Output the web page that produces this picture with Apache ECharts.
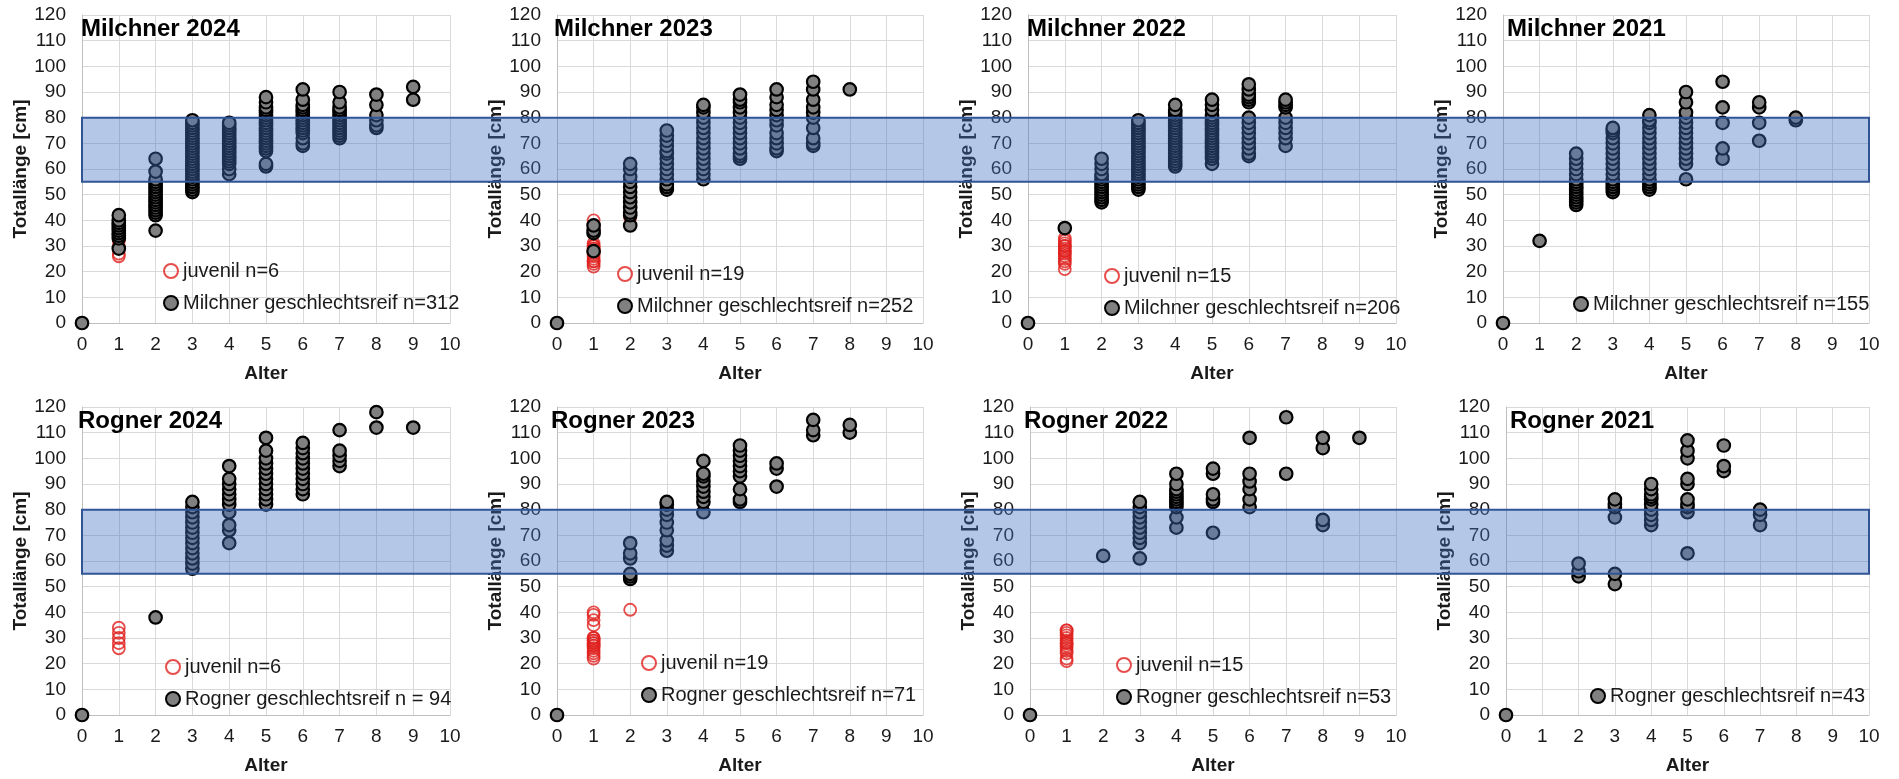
<!DOCTYPE html>
<html><head><meta charset="utf-8">
<script src="https://cdn.jsdelivr.net/npm/echarts@6/dist/echarts.min.js"></script>
<style>html,body{margin:0;padding:0;background:#fff}#c{width:1899px;height:779px}</style>
</head><body><div id="c"></div>
<script>
// ---- Data (index of each inner list = Alter / age) ----
const xTicks = [0,1,2,3,4,5,6,7,8,9,10];
const yTicks = [0,10,20,30,40,50,60,70,80,90,100,110,120];
const bandMin = 55, bandMax = 80;

const titles = ['Milchner 2024','Milchner 2023','Milchner 2022','Milchner 2021','Rogner 2024','Rogner 2023','Rogner 2022','Rogner 2021'];
const juvNames = ['juvenil n=6','juvenil n=19','juvenil n=15',null,'juvenil n=6','juvenil n=19','juvenil n=15',null];
const matNames = ['Milchner geschlechtsreif n=312','Milchner geschlechtsreif n=252','Milchner geschlechtsreif n=206','Milchner geschlechtsreif n=155',
                  'Rogner geschlechtsreif n = 94','Rogner geschlechtsreif n=71','Rogner geschlechtsreif n=53','Rogner geschlechtsreif n=43'];

const m2024Juv = [[0],[26,27,30,32,33]];
const m2024Mat = [[0],[29,33,34,35,36,37,38,39,40,42],[36,42,43,44,45,46,47,48,49,50,51,52,53,54,55,56,59,64],
  [51,52,53,54,55,56,57,58,59,60,61,62,63,64,65,66,67,68,69,70,71,72,73,74,75,76,77,78,79],
  [58,60,62,63,64,65,66,67,68,69,70,71,72,73,74,75,76,77,78],
  [61,62,67,68,69,70,71,72,73,74,75,76,77,78,79,80,81,82,83,84,86,88],
  [69,70,72,74,75,76,77,78,79,80,81,82,83,84,85,87,91],
  [72,73,74,75,76,77,78,79,80,81,82,83,84,86,90],
  [76,77,79,81,85,89],[87,92]];

const m2023Juv = [[0],[22,23,24,24,25,26,27,28,28,29,29,30,30,31,37,38,40],[41]];
const m2023Mat = [[0],[28,35,36,38],[38,42,43,45,47,49,51,53,55,57,60,62],
  [52,53,54,56,58,60,62,64,66,67,69,71,73,75],
  [56,58,60,62,64,66,68,70,72,74,76,78,80,82,84,85],
  [64,65,66,68,70,72,74,76,78,80,82,84,86,87,89],
  [67,68,70,72,74,77,79,81,83,85,88,91],
  [69,70,72,76,80,82,84,87,91,94],[91]];

const m2022Juv = [[0],[21,23,24,25,26,27,28,28,29,30,30,31,32,33]];
const m2022Mat = [[0],[37],[47,48,49,50,51,52,53,54,55,56,57,58,60,62,64],
  [52,53,54,55,56,57,58,59,60,61,62,63,64,65,66,67,68,69,70,71,72,73,74,75,76,77,78,79],
  [61,62,63,64,65,66,67,68,69,70,71,72,73,74,75,76,77,78,79,80,81,82,83,85],
  [62,64,65,66,67,68,69,70,71,72,73,74,75,76,77,78,79,80,81,83,85,87],
  [65,66,68,70,72,74,76,78,80,86,87,88,89,91,93],
  [69,72,74,76,78,80,84,85,86,87]];

const m2021Mat = [[0],[32],[46,47,48,49,50,51,52,53,54,55,56,58,60,62,64,66],
  [51,52,53,54,55,56,58,60,62,64,66,68,70,72,74,75,76],
  [52,53,54,55,56,58,60,62,64,66,68,70,72,74,76,78,79,81],
  [56,62,64,66,68,70,72,74,76,78,80,82,86,90],
  [64,68,78,84,94],[71,78,84,86],[79,80]];

const r2024Juv = [[0],[26,28,30,32,34]];
const r2024Mat = [[0],[],[38],[57,59,61,63,65,67,69,71,73,75,77,79,81,83],
  [67,72,74,79,82,84,86,88,90,92,97],
  [82,84,86,88,90,92,94,96,98,100,103,108],
  [86,88,90,92,94,96,98,100,102,104,106],
  [97,99,101,103,111],[112,118],[112]];

const r2023Juv = [[0],[22,23,24,25,26,27,27,28,28,29,29,30,30,35,37,39,40],[41]];
const r2023Mat = [[0],[],[53,54,55,61,63,67],[64,66,68,72,75,78,80,82,83],
  [79,83,85,87,89,91,93,94,99],[83,84,88,93,95,97,99,101,103,105],
  [89,96,98],[109,111,115],[110,113]];

const r2022Juv = [[0],[21,22,24,25,26,27,28,28,29,30,31,32,33,33]];
const r2022Mat = [[0],[],[62],[61,67,69,71,73,75,77,79,81,83],
  [73,77,81,82,83,84,85,86,87,88,90,94],[71,83,84,86,94,96],
  [81,84,88,91,94,108],[94,116],[74,76,104,108],[108]];

const r2021Mat = [[0],[],[54,56,59],[51,55,77,81,82,84],
  [74,76,78,80,82,84,85,86,88,90],[63,79,81,82,84,90,92,100,103,107],
  [95,97,105],[74,78,80]];

const juvData = [m2024Juv,m2023Juv,m2022Juv,null,r2024Juv,r2023Juv,r2022Juv,null];
const matData = [m2024Mat,m2023Mat,m2022Mat,m2021Mat,r2024Mat,r2023Mat,r2022Mat,r2021Mat];

// ---- Layout ----
const FONT = "'Liberation Sans', Arial, sans-serif";
const layouts = [
  {l:82,  t:15,  w:368, tl:81,   tt:17,  lgl:163,  lgt:261},
  {l:557, t:15,  w:366, tl:554,  tt:17,  lgl:617,  lgt:264},
  {l:1028,t:15,  w:368, tl:1027, tt:17,  lgl:1104, lgt:266},
  {l:1503,t:15,  w:366, tl:1507, tt:17,  lgl:1573, lgt:294},
  {l:82,  t:407, w:368, tl:78,   tt:409, lgl:165,  lgt:657},
  {l:557, t:407, w:366, tl:551,  tt:409, lgl:641,  lgt:653},
  {l:1030,t:407, w:366, tl:1024, tt:409, lgl:1116, lgt:655},
  {l:1506,t:407, w:363, tl:1510, tt:409, lgl:1590, lgt:686}
];

function toPairs(byAge){ const out=[]; byAge.forEach((vals,age)=>vals.forEach(v=>out.push([age,v]))); return out; }

const grids=[], xAxes=[], yAxes=[], series=[], titleArr=[], legends=[];
layouts.forEach((L,i)=>{
  grids.push({left:L.l, top:L.t, width:L.w, height:308, containLabel:false});
  xAxes.push({gridIndex:i, type:'value', min:0, max:10, interval:1,
    name:'Alter', nameLocation:'middle', nameGap:41,
    nameTextStyle:{fontFamily:FONT, fontSize:19, fontWeight:'bold', color:'#1a1a1a'},
    axisLine:{show:true, lineStyle:{color:'#bfbfbf', width:1}}, axisTick:{show:false},
    axisLabel:{fontFamily:FONT, fontSize:19, color:'#1a1a1a', margin:12},
    splitLine:{show:true, lineStyle:{color:'#d9d9d9', width:1}}});
  yAxes.push({gridIndex:i, type:'value', min:0, max:120, interval:10,
    name:'Totallänge [cm]', nameLocation:'middle', nameGap:52, nameRotate:90,
    nameTextStyle:{fontFamily:FONT, fontSize:19, fontWeight:'bold', color:'#1a1a1a'},
    axisLine:{show:true, lineStyle:{color:'#bfbfbf', width:1}}, axisTick:{show:false},
    axisLabel:{fontFamily:FONT, fontSize:19, color:'#1a1a1a', margin:16},
    splitLine:{show:true, lineStyle:{color:'#d9d9d9', width:1}}});
  titleArr.push({text:titles[i], left:L.tl, top:L.tt, padding:0,
    textStyle:{fontFamily:FONT, fontSize:24, fontWeight:'bold', color:'#000'}});
  const lgData=[];
  if (juvData[i]) {
    series.push({type:'scatter', name:juvNames[i], xAxisIndex:i, yAxisIndex:i, clip:false,
      symbol:'circle', symbolSize:12, data:toPairs(juvData[i]),
      itemStyle:{color:'rgba(0,0,0,0)', borderColor:'#e0201e', borderWidth:1.8}, z:2});
    lgData.push(juvNames[i]);
  }
  series.push({type:'scatter', name:matNames[i], xAxisIndex:i, yAxisIndex:i, clip:false,
    symbol:'circle', symbolSize:12.5, data:toPairs(matData[i]),
    itemStyle:{color:'#808080', borderColor:'#000', borderWidth:2.2, opacity:1}, z:3});
  lgData.push(matNames[i]);
  legends.push({data:lgData, orient:'vertical', left:L.lgl, top:L.lgt, padding:0, itemGap:12,
    itemWidth:14, itemHeight:14, icon:'circle', selectedMode:false,
    textStyle:{fontFamily:FONT, fontSize:20, color:'#1a1a1a'}});
});

const chart = echarts.init(document.getElementById('c'));
chart.setOption({animation:false, backgroundColor:'#fff', title:titleArr, grid:grids, xAxis:xAxes, yAxis:yAxes, legend:legends, series:series});

function bandRect(g0, g1){
  const a = chart.convertToPixel({gridIndex:g0}, [0, bandMax]);
  const b = chart.convertToPixel({gridIndex:g1}, [10, bandMin]);
  return {type:'rect', z:50, silent:true,
    shape:{x:a[0], y:a[1], width:b[0]-a[0], height:b[1]-a[1]},
    style:{fill:'rgba(68,114,196,0.4)', stroke:'#2f5597', lineWidth:2}};
}
chart.setOption({graphic:[bandRect(0,3), bandRect(4,7)]});
</script></body></html>
